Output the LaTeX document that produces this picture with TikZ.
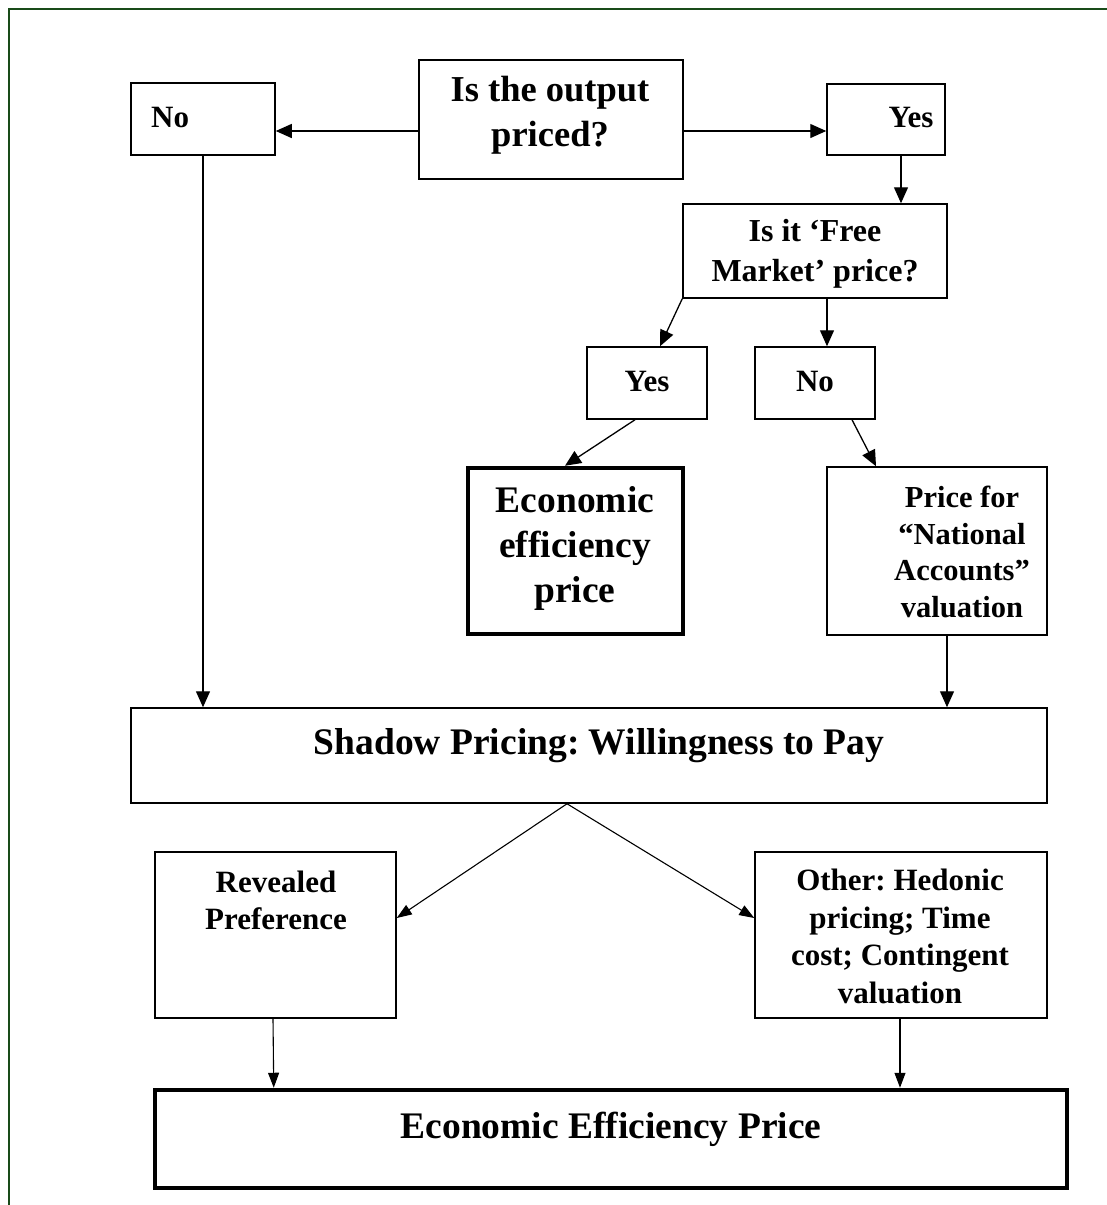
\documentclass[tikz,border=0pt]{standalone}
\usepackage{fontspec}
\setmainfont{Liberation Serif}
\usetikzlibrary{arrows.meta,calc}
\definecolor{frame}{RGB}{25,75,25}
\begin{document}
\frenchspacing
\begin{tikzpicture}[x=1pt,y=-1pt,
  box/.style={draw, line width=1.5pt, inner sep=0pt},
  thickbox/.style={draw, line width=4.5pt, inner sep=0pt},
  arr/.style={line width=1.3pt, -{Triangle[length=16pt,width=14pt]}},
  arrs/.style={line width=1.1pt, -{Triangle[length=15pt,width=11pt]}},
  tbig/.style={font=\fontsize{37.5}{45}\selectfont\bfseries, align=center, inner sep=0pt},
  ttitle/.style={font=\fontsize{36.5}{45}\selectfont\bfseries, align=center, inner sep=0pt},
  tmid/.style={font=\fontsize{32}{40}\selectfont\bfseries, align=center, inner sep=0pt},
  tsmall/.style={font=\fontsize{31}{37.5}\selectfont\bfseries, align=center, inner sep=0pt},
  tnat/.style={font=\fontsize{30.5}{36.5}\selectfont\bfseries, align=center, inner sep=0pt}
]
\useasboundingbox (0,0) rectangle (1107,1205);
% frame (top and left only)
\draw[frame, line width=2pt] (9,1205) -- (9,9) -- (1107,9);

% boxes
\node[box, minimum width=144pt, minimum height=72pt] (no1) at (203,119) {};
\node[box, minimum width=264pt, minimum height=119pt] (q1) at (551,119.5) {};
\node[box, minimum width=118pt, minimum height=71pt] (yes1) at (886,119.5) {};
\node[box, minimum width=264pt, minimum height=94pt] (q2) at (815,251) {};
\node[box, minimum width=120pt, minimum height=72pt] (yes2) at (647,383) {};
\node[box, minimum width=120pt, minimum height=72pt] (no2) at (815,383) {};
\node[thickbox, minimum width=215pt, minimum height=166pt] (eep) at (575.5,551) {};
\node[box, minimum width=220pt, minimum height=168pt] (nat) at (937,551) {};
\node[box, minimum width=916pt, minimum height=95pt] (shadow) at (589,755.5) {};
\node[box, minimum width=241pt, minimum height=166pt] (rev) at (275.5,935) {};
\node[box, minimum width=292pt, minimum height=166pt] (other) at (901,935) {};
\node[thickbox, minimum width=912pt, minimum height=98pt] (eep2) at (611,1139) {};

% texts
\node[tsmall, anchor=west] (tno1) at (151,117) {No};
\node[ttitle] (tq1) at (550,115) {Is the output\\priced?};
\node[tsmall] (tyes1) at (911,117) {Yes};
\node[tmid] (tq2) at (815,254) {Is it ‘Free\\Market’ price?};
\node[tsmall] (tyes2) at (647,381) {Yes};
\node[tsmall] (tno2) at (815,381) {No};
\node[tbig] (teep) at (575,548) {Economic\\efficiency\\price};
\node[tnat] (tnat) at (962,552) {Price for\\“National\\Accounts”\\valuation};
\node[tbig] (tshadow) at (599,746) {Shadow Pricing: Willingness to Pay};
\node[tsmall] (trev) at (276,900.5) {Revealed\\Preference};
\node[tsmall] (tother) at (900,936.5) {Other: Hedonic\\pricing; Time\\cost; Contingent\\valuation};
\node[tbig] (teep2) at (611,1129) {Economic Efficiency Price};

% connectors
\coordinate (a1) at ($(q1.west)+(0,11.5)$);
\draw[arr] (a1) -- (a1 -| no1.east);
\draw[arr] (a1 -| q1.east) -- (a1 -| yes1.west);
\coordinate (a2) at ($(yes1.south)+(15,0)$);
\draw[arr] (a2) -- (a2 |- q2.north);
\draw[arr] (q2.south west) -- ($(yes2.north)+(13,0)$);
\coordinate (a3) at ($(q2.south)+(12,0)$);
\draw[arr] (a3) -- (a3 |- no2.north);
\draw[arr] ($(yes2.south)+(-12,0)$) -- ($(eep.north)+(-10.5,0)$);
\draw[arr] ($(no2.south)+(37,0)$) -- ($(nat.north)+(-61,0)$);
\draw[arr] (no1.south) -- (no1.south |- shadow.north);
\coordinate (a4) at ($(nat.south)+(10,0)$);
\draw[arr] (a4) -- (a4 |- shadow.north);
\coordinate (a5) at ($(shadow.south)+(-22,0)$);
\draw[arrs] (a5) -- ($(rev.east)+(0,-17)$);
\draw[arrs] (a5) -- ($(other.west)+(0,-17)$);
\draw[arrs] ($(rev.south)+(-2.5,0)$) -- ($(eep2.north west)+(121,0)$);
\coordinate (a6) at ($(other.south)+(-1,0)$);
\draw[arrs] (a6) -- (a6 |- eep2.north);
\end{tikzpicture}
\end{document}
